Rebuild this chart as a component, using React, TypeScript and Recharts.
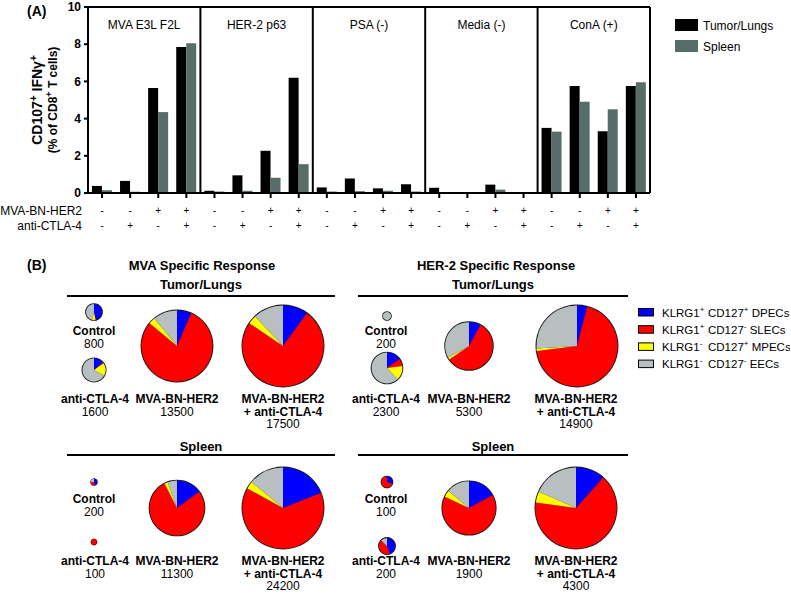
import React from 'react';
import { BarChart, Bar, XAxis, YAxis, ReferenceLine, Legend, PieChart, Pie, Cell } from 'recharts';

const FONT = 'Arial, "Liberation Sans", Helvetica, sans-serif';

// ---------- Panel A data ----------
const stimulations = ['MVA E3L F2L', 'HER-2 p63', 'PSA (-)', 'Media (-)', 'ConA (+)'];
const mvaBnHer2Signs = ['-', '-', '+', '+'];
const antiCtla4Signs = ['-', '+', '-', '+'];
const tumorLungsValues = [0.38, 0.65, 5.65, 7.85, 0.12, 0.95, 2.27, 6.2, 0.3, 0.78, 0.25, 0.47, 0.28, 0.01, 0.45, 0.0, 3.5, 5.75, 3.32, 5.75];
const spleenValues = [0.15, 0.07, 4.35, 8.05, 0.08, 0.12, 0.82, 1.55, 0.08, 0.1, 0.12, 0.08, 0.05, 0.04, 0.18, 0.05, 3.3, 4.9, 4.5, 5.96];
const yTicks = [0, 2, 4, 6, 8, 10];
const barSeries = ['Tumor/Lungs', 'Spleen'];
const barColors = ['#000000', '#566d69'];

// ---------- Panel B data ----------
const subsetNames = ['DPECs', 'SLECs', 'MPECs', 'EECs'];
const klrg1Signs = ['+', '+', '-', '-'];
const cd127Signs = ['+', '-', '+', '-'];
const subsetColors = ['#0000ff', '#ff0000', '#ffff00', '#b8bfc1'];
const treatments = [['Control'], ['anti-CTLA-4'], ['MVA-BN-HER2'], ['MVA-BN-HER2', '+ anti-CTLA-4']];

const mvaTumorCounts = [800, 1600, 13500, 17500];
const her2TumorCounts = [200, 2300, 5300, 14900];
const mvaSpleenCounts = [200, 100, 11300, 24200];
const her2SpleenCounts = [100, 200, 1900, 4300];

// % DPECs, SLECs, MPECs, EECs
const mvaTumorFractions = [[46, 1, 7, 46], [14, 1, 18, 67], [6.5, 79.5, 3, 11], [10, 74.5, 3.5, 12]];
const her2TumorFractions = [[0, 0, 0, 100], [15, 8, 15, 62], [8, 57.5, 1.5, 33], [4, 69, 1, 26]];
const mvaSpleenFractions = [[45, 30, 0, 25], [0, 100, 0, 0], [15, 77.5, 2, 5.5], [19, 64, 3, 14]];
const her2SpleenFractions = [[30, 70, 0, 0], [45, 42, 0, 13], [17, 65, 4, 14], [11.6, 65.6, 4.4, 18.4]];

// ---------- layout (positions only) ----------
const PIE_TOP = 240;
const MAX_R = 41.5;
const MIN_R = 3.4;
const panels = [
  { counts: mvaTumorCounts, fractions: mvaTumorFractions,
    pos: [[94, 312], [94, 370], [177, 346], [283, 346]], labels: [[94, 331], [95, 399], [177, 399], [283, 399]] },
  { counts: her2TumorCounts, fractions: her2TumorFractions,
    pos: [[387, 316], [387, 368], [469, 346], [577, 346]], labels: [[386, 331], [386, 399], [469, 399], [576, 399]] },
  { counts: mvaSpleenCounts, fractions: mvaSpleenFractions,
    pos: [[94, 482], [94, 542], [177, 508], [283, 508]], labels: [[94, 499], [95, 561], [177, 561], [283, 561]] },
  { counts: her2SpleenCounts, fractions: her2SpleenFractions,
    pos: [[387, 482], [387, 546], [469, 508], [576, 508]], labels: [[386, 499], [386, 561], [469, 561], [576, 561]] },
];

const barData = tumorLungsValues.map((v, i) => ({
  cat: `${stimulations[Math.floor(i / 4)]} ${i % 4}`,
  group: stimulations[Math.floor(i / 4)],
  tumor: v,
  spleen: spleenValues[i],
  mva: mvaBnHer2Signs[i % 4],
  ctla: antiCtla4Signs[i % 4],
}));

const SignTick = (props: any) => {
  const { x, y, payload } = props;
  const idx = props.index ?? payload.index;
  const row = barData[idx];
  if (!row) return null;
  return (
    <g>
      <text x={x} y={y + 14} textAnchor="middle" fontSize={10} fontFamily={FONT} fill="#000">{row.mva}</text>
      <text x={x} y={y + 29} textAnchor="middle" fontSize={10} fontFamily={FONT} fill="#000">{row.ctla}</text>
    </g>
  );
};

const BarLegend = () => (
  <svg width={110} height={36} style={{ display: 'block' }}>
    {barSeries.map((s, i) => (
      <g key={s}>
        <rect x={0} y={i * 21} width={23} height={12} fill={barColors[i]} />
        <text x={28} y={i * 21 + 10.5} fontSize={12} fontFamily={FONT} fill="#000">{s}</text>
      </g>
    ))}
  </svg>
);

const LEG_PAD = 6;
const PieLegend = () => (
  <svg width={152} height={80} style={{ display: 'block' }}>
    {subsetNames.map((s, i) => (
      <g key={s}>
        <rect x={0.5} y={LEG_PAD + i * 17.2 + 0.5} width={15} height={7.5} fill={subsetColors[i]} stroke="#000" strokeWidth={1} />
        <text x={24} y={LEG_PAD + i * 17.2 + 8.5} fontSize={11.5} fontFamily={FONT} fill="#000">
          KLRG1<tspan dy={-5} fontSize={8}>{klrg1Signs[i]}</tspan>
          <tspan x={70} dy={5}>CD127</tspan>
          <tspan dy={-5} fontSize={8}>{cd127Signs[i]}</tspan>
          <tspan dy={5}>{' ' + s}</tspan>
        </text>
      </g>
    ))}
  </svg>
);

const Lbl = ({ x, y, children, bold = false, size = 12 }: any) => (
  <text x={x} y={y} textAnchor="middle" fontSize={size} fontWeight={bold ? 'bold' : 'normal'} fontFamily={FONT} fill="#000">{children}</text>
);

export default function App() {
  return (
    <div style={{ position: 'absolute', left: 0, top: 0, width: 791, height: 594, background: '#fff', fontFamily: FONT }}>
      <div style={{ position: 'absolute', left: 0, top: 0 }}>
        <BarChart width={791} height={240} data={barData} margin={{ top: 7, right: 141, bottom: 0, left: 0 }}
          barCategoryGap="14%" barGap={0}>
          <XAxis dataKey="cat" interval={0} height={47} axisLine={{ stroke: '#000', strokeWidth: 2 }}
            tickLine={{ stroke: '#000', strokeWidth: 2 }} tickSize={5} tickMargin={2} tick={<SignTick />} />
          <XAxis xAxisId="grp" dataKey="group" allowDuplicatedCategory={false} hide />
          <YAxis domain={[0, 10]} ticks={yTicks} width={88} interval={0}
            axisLine={{ stroke: '#000', strokeWidth: 2 }} tickLine={{ stroke: '#000', strokeWidth: 2 }} tickSize={4} tickMargin={3}
            tick={{ fill: '#000', fontSize: 12, fontWeight: 'bold', fontFamily: FONT }} />
          <ReferenceLine y={10} stroke="#000" strokeWidth={2} />
          {stimulations.map((s) => (
            <ReferenceLine key={`t${s}`} xAxisId="grp" x={s} position="middle" stroke="none"
              label={{ value: s, position: 'insideTop', offset: 13, fill: '#000', fontSize: 12, fontFamily: FONT }} />
          ))}
          {stimulations.slice(1).map((s) => (
            <ReferenceLine key={`b${s}`} xAxisId="grp" x={s} position="start" stroke="#000" strokeWidth={2} />
          ))}
          <ReferenceLine xAxisId="grp" x={stimulations[stimulations.length - 1]} position="end" stroke="#000" strokeWidth={2} />
          <Bar dataKey="tumor" name={barSeries[0]} fill={barColors[0]} isAnimationActive={false} />
          <Bar dataKey="spleen" name={barSeries[1]} fill={barColors[1]} isAnimationActive={false} />
          <Legend layout="horizontal" verticalAlign="middle" align="center" content={() => <BarLegend />}
            wrapperStyle={{ left: 675, top: 19, width: 110, height: 36 }} />
        </BarChart>
      </div>

      <div style={{ position: 'absolute', left: 0, top: PIE_TOP }}>
        <PieChart width={791} height={594 - PIE_TOP} margin={{ top: 0, right: 0, bottom: 0, left: 0 }}>
          {panels.map((p, pi) => {
            const maxN = Math.max(...p.counts);
            return p.counts.map((n, ti) => {
              const r = Math.max(MAX_R * Math.sqrt(n / maxN), MIN_R);
              const ring = Math.min(0.9, r * 0.15);
              const d = subsetNames
                .map((s, k) => ({ name: s, value: p.fractions[ti][k], color: subsetColors[k] }))
                .filter((e) => e.value > 0);
              return (
                <React.Fragment key={`${pi}-${ti}`}>
                  <Pie data={[{ name: `outline-${pi}-${ti}`, value: 1 }]} dataKey="value" cx={p.pos[ti][0]} cy={p.pos[ti][1] - PIE_TOP}
                    outerRadius={r} innerRadius={0} startAngle={90} endAngle={-270}
                    fill="#1a1a1a" stroke="none" isAnimationActive={false} />
                  <Pie data={d} dataKey="value" nameKey="name" cx={p.pos[ti][0]} cy={p.pos[ti][1] - PIE_TOP}
                    outerRadius={r - ring} innerRadius={0} startAngle={90} endAngle={-270} stroke="none" isAnimationActive={false}>
                    {d.map((e, k) => <Cell key={k} fill={e.color} stroke="none" />)}
                  </Pie>
                </React.Fragment>
              );
            });
          })}
          <Legend layout="horizontal" verticalAlign="middle" align="center" content={() => <PieLegend />}
            wrapperStyle={{ left: 638, top: 308 - PIE_TOP - LEG_PAD, width: 152, height: 80 }} />
        </PieChart>
      </div>

      <svg style={{ position: 'absolute', left: 0, top: 0, pointerEvents: 'none' }} width={791} height={594}>
        <text x={27} y={16} fontSize={14} fontWeight="bold" fontFamily={FONT}>(A)</text>
        <text transform="translate(42,100) rotate(-90)" textAnchor="middle" fontSize={14} fontWeight="bold" fontFamily={FONT}>
          CD107<tspan dy={-5} fontSize={10}>+</tspan><tspan dy={5}> IFNγ</tspan><tspan dy={-5} fontSize={10}>+</tspan>
        </text>
        <text transform="translate(57,100) rotate(-90)" textAnchor="middle" fontSize={12} fontWeight="bold" fontFamily={FONT}>
          (% of CD8<tspan dy={-5} fontSize={9}>+</tspan><tspan dy={5}> T cells)</tspan>
        </text>
        <text x={82} y={215} textAnchor="end" fontSize={12} fontFamily={FONT}>MVA-BN-HER2</text>
        <text x={82} y={230} textAnchor="end" fontSize={12} fontFamily={FONT}>anti-CTLA-4</text>

        <text x={27} y={270} fontSize={14} fontWeight="bold" fontFamily={FONT}>(B)</text>
        <Lbl x={202} y={270} bold size={13}>MVA Specific Response</Lbl>
        <Lbl x={496} y={270} bold size={13}>HER-2 Specific Response</Lbl>
        <Lbl x={201} y={289} bold size={13}>Tumor/Lungs</Lbl>
        <Lbl x={493} y={289} bold size={13}>Tumor/Lungs</Lbl>
        <line x1={67} x2={335} y1={296} y2={296} stroke="#000" strokeWidth={2} />
        <line x1={358} x2={628} y1={296} y2={296} stroke="#000" strokeWidth={2} />
        <Lbl x={201} y={450.5} bold size={13}>Spleen</Lbl>
        <Lbl x={493} y={450.5} bold size={13}>Spleen</Lbl>
        <line x1={67} x2={335} y1={455} y2={455} stroke="#000" strokeWidth={2} />
        <line x1={358} x2={628} y1={455} y2={455} stroke="#000" strokeWidth={2} />

        {panels.map((p, pi) => p.counts.map((n, ti) => {
          const [lx, ly] = p.labels[ti];
          const names = treatments[ti];
          return (
            <g key={`l${pi}-${ti}`}>
              {names.map((nm, k) => (
                <Lbl key={k} x={lx} y={ly + 4.3 + k * 12.5} bold>{nm}</Lbl>
              ))}
              <Lbl x={lx} y={ly + 4.3 + names.length * 12.5}>{n}</Lbl>
            </g>
          );
        }))}
      </svg>
    </div>
  );
}
